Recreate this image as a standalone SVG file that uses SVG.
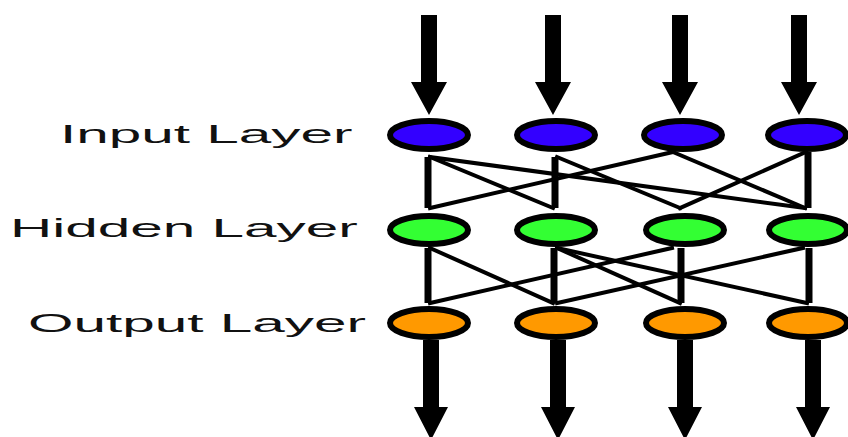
<svg xmlns="http://www.w3.org/2000/svg" width="848" height="437" viewBox="0 0 848 437">
  <style>
    .label { font-family: "Liberation Sans", Arial, sans-serif; font-size: 26px; fill: #111; }
    .node { stroke: #000; stroke-width: 6; }
    .in { fill: #3300ff; }
    .hid { fill: #33ff33; }
    .out { fill: #ff9900; }
    .edge { stroke: #000; stroke-width: 4; fill: none; stroke-linecap: square; }
    .trunk { stroke: #000; stroke-width: 7; fill: none; }
    .arrow { fill: #000; }
  </style>
  <rect width="848" height="437" fill="#fff"/>

  <!-- layer labels, drawn wide -->
  <g id="labels">
    <text class="label" transform="translate(60,143) scale(2.25,1)">Input Layer</text>
    <text class="label" transform="translate(10,237) scale(2.25,1)">Hidden Layer</text>
    <text class="label" transform="translate(28,332) scale(2.25,1)">Output Layer</text>
  </g>

  <!-- incoming and outgoing signal arrows -->
  <g id="io-arrows">
    <path class="arrow" d="M421 15 H437 V82 H447 L429 115 L411 82 H421 Z"/>
    <path class="arrow" d="M545 15 H561 V82 H571 L553 115 L535 82 H545 Z"/>
    <path class="arrow" d="M672 15 H688 V82 H698 L680 115 L662 82 H672 Z"/>
    <path class="arrow" d="M791 15 H807 V82 H817 L799 115 L781 82 H791 Z"/>

    <path class="arrow" d="M423 340 H439 V407 H448 L431 440 L414 407 H423 Z"/>
    <path class="arrow" d="M550 340 H566 V407 H575 L558 440 L541 407 H550 Z"/>
    <path class="arrow" d="M677 340 H693 V407 H702 L685 440 L668 407 H677 Z"/>
    <path class="arrow" d="M805 340 H821 V407 H830 L813 440 L796 407 H805 Z"/>
  </g>

  <!-- weighted connections between layers -->
  <g id="connectors">
    <!-- input to hidden -->
    <line class="trunk" x1="428" y1="157" x2="428" y2="208"/>
    <line class="trunk" x1="555" y1="157" x2="555" y2="208"/>
    <line class="trunk" x1="808" y1="152" x2="808" y2="208"/>
    <line class="edge" x1="430" y1="157" x2="553" y2="208"/>
    <line class="edge" x1="430" y1="157" x2="805" y2="208"/>
    <line class="edge" x1="557" y1="157" x2="680" y2="208"/>
    <line class="edge" x1="673" y1="152" x2="430" y2="208"/>
    <line class="edge" x1="673" y1="152" x2="805" y2="208"/>
    <line class="edge" x1="806" y1="152" x2="680" y2="208"/>

    <!-- hidden to output -->
    <line class="trunk" x1="428" y1="248" x2="428" y2="303"/>
    <line class="trunk" x1="554" y1="248" x2="554" y2="303"/>
    <line class="trunk" x1="681" y1="248" x2="681" y2="303"/>
    <line class="trunk" x1="809" y1="248" x2="809" y2="303"/>
    <line class="edge" x1="430" y1="248" x2="553" y2="303"/>
    <line class="edge" x1="557" y1="248" x2="680" y2="303"/>
    <line class="edge" x1="557" y1="248" x2="807" y2="303"/>
    <line class="edge" x1="672" y1="248" x2="430" y2="303"/>
    <line class="edge" x1="803" y1="248" x2="557" y2="303"/>
  </g>

  <!-- input layer -->
  <g id="input-1"><ellipse class="node in" cx="429" cy="135" rx="39" ry="14"/></g>
  <g id="input-2"><ellipse class="node in" cx="556" cy="135" rx="39" ry="14"/></g>
  <g id="input-3"><ellipse class="node in" cx="683" cy="135" rx="39" ry="14"/></g>
  <g id="input-4"><ellipse class="node in" cx="807" cy="135" rx="39" ry="14"/></g>

  <!-- hidden layer -->
  <g id="hidden-1"><ellipse class="node hid" cx="429" cy="230" rx="39" ry="14"/></g>
  <g id="hidden-2"><ellipse class="node hid" cx="556" cy="230" rx="39" ry="14"/></g>
  <g id="hidden-3"><ellipse class="node hid" cx="685" cy="230" rx="39" ry="14"/></g>
  <g id="hidden-4"><ellipse class="node hid" cx="808" cy="230" rx="39" ry="14"/></g>

  <!-- output layer -->
  <g id="output-1"><ellipse class="node out" cx="429" cy="323" rx="39" ry="14"/></g>
  <g id="output-2"><ellipse class="node out" cx="556" cy="323" rx="39" ry="14"/></g>
  <g id="output-3"><ellipse class="node out" cx="685" cy="323" rx="39" ry="14"/></g>
  <g id="output-4"><ellipse class="node out" cx="808" cy="323" rx="39" ry="14"/></g>
</svg>
